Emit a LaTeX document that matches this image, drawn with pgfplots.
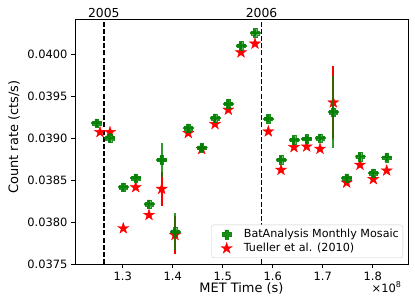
\documentclass[border=0pt]{standalone}
\usepackage{fontspec}
\setmainfont{DejaVu Sans}
\usepackage{pgfplots}
\pgfplotsset{compat=1.18}
\usepackage{pgfplotstable}

\definecolor{mgreen}{RGB}{0,128,0}

\pgfdeclareplotmark{Pfill}{%
  \pgfpathmoveto{\pgfpoint{-0.4\pgfplotmarksize}{-\pgfplotmarksize}}%
  \pgfpathlineto{\pgfpoint{0.4\pgfplotmarksize}{-\pgfplotmarksize}}%
  \pgfpathlineto{\pgfpoint{0.4\pgfplotmarksize}{-0.4\pgfplotmarksize}}%
  \pgfpathlineto{\pgfpoint{\pgfplotmarksize}{-0.4\pgfplotmarksize}}%
  \pgfpathlineto{\pgfpoint{\pgfplotmarksize}{0.4\pgfplotmarksize}}%
  \pgfpathlineto{\pgfpoint{0.4\pgfplotmarksize}{0.4\pgfplotmarksize}}%
  \pgfpathlineto{\pgfpoint{0.4\pgfplotmarksize}{\pgfplotmarksize}}%
  \pgfpathlineto{\pgfpoint{-0.4\pgfplotmarksize}{\pgfplotmarksize}}%
  \pgfpathlineto{\pgfpoint{-0.4\pgfplotmarksize}{0.4\pgfplotmarksize}}%
  \pgfpathlineto{\pgfpoint{-\pgfplotmarksize}{0.4\pgfplotmarksize}}%
  \pgfpathlineto{\pgfpoint{-\pgfplotmarksize}{-0.4\pgfplotmarksize}}%
  \pgfpathlineto{\pgfpoint{-0.4\pgfplotmarksize}{-0.4\pgfplotmarksize}}%
  \pgfpathclose
  \pgfusepathqfillstroke
}
\pgfdeclareplotmark{fstar}{%
  \pgfpathmoveto{\pgfpointpolar{90}{\pgfplotmarksize}}%
  \pgfpathlineto{\pgfpointpolar{126}{0.382\pgfplotmarksize}}%
  \pgfpathlineto{\pgfpointpolar{162}{\pgfplotmarksize}}%
  \pgfpathlineto{\pgfpointpolar{198}{0.382\pgfplotmarksize}}%
  \pgfpathlineto{\pgfpointpolar{234}{\pgfplotmarksize}}%
  \pgfpathlineto{\pgfpointpolar{270}{0.382\pgfplotmarksize}}%
  \pgfpathlineto{\pgfpointpolar{306}{\pgfplotmarksize}}%
  \pgfpathlineto{\pgfpointpolar{342}{0.382\pgfplotmarksize}}%
  \pgfpathlineto{\pgfpointpolar{18}{\pgfplotmarksize}}%
  \pgfpathlineto{\pgfpointpolar{54}{0.382\pgfplotmarksize}}%
  \pgfpathclose
  \pgfusepathqfillstroke
}

\pgfplotstableread{
x      y        ex    ey
1.2480 0.039184 0.011 0.00005
1.2746 0.039005 0.011 0.00006
1.3012 0.038419 0.011 0.00004
1.3260 0.038527 0.011 0.00004
1.3526 0.038216 0.011 0.00004
1.3780 0.038746 0.011 0.00020
1.4046 0.037889 0.011 0.00022
1.4312 0.039124 0.011 0.00004
1.4580 0.038892 0.011 0.00004
1.4846 0.039244 0.011 0.00004
1.5112 0.039415 0.011 0.00004
1.5366 0.040108 0.011 0.00004
1.5646 0.040259 0.011 0.00004
1.5912 0.039235 0.011 0.00004
1.6166 0.038746 0.011 0.00004
1.6426 0.038984 0.011 0.00004
1.6680 0.038996 0.011 0.00004
1.6946 0.039005 0.011 0.00004
1.7212 0.039315 0.011 0.00043
1.7480 0.038527 0.011 0.00004
1.7746 0.038785 0.011 0.00004
1.8012 0.038587 0.011 0.00004
1.8280 0.038773 0.011 0.00004
}\bat

\pgfplotstableread{
x      y        ey
1.2546 0.039076 0.00003
1.2746 0.039076 0.00003
1.3012 0.037929 0.00003
1.3260 0.038419 0.00003
1.3526 0.038088 0.00003
1.3780 0.038399 0.00020
1.4046 0.037849 0.00023
1.4312 0.039065 0.00003
1.4580 0.038873 0.00003
1.4846 0.039172 0.00003
1.5112 0.039343 0.00003
1.5366 0.040027 0.00003
1.5646 0.040131 0.00003
1.5912 0.039084 0.00003
1.6166 0.038626 0.00003
1.6426 0.038897 0.00003
1.6680 0.038904 0.00003
1.6946 0.038877 0.00003
1.7212 0.039430 0.00043
1.7480 0.038474 0.00003
1.7746 0.038686 0.00003
1.8012 0.038515 0.00003
1.8280 0.038618 0.00003
}\tueller

\begin{document}
\begin{tikzpicture}
\path[use as bounding box] (-75bp,-42.7bp) rectangle (340bp,264.3bp);
\begin{axis}[
  at={(0,0)}, anchor=south west,
  scale only axis, width=333bp, height=244.8bp,
  xmin=1.2046, xmax=1.8706, ymin=0.0375, ymax=0.04042,
  xtick={1.3,1.4,1.5,1.6,1.7,1.8},
  ytick={0.0375,0.038,0.0385,0.039,0.0395,0.04},
  scaled ticks=false,
  xticklabel style={/pgf/number format/.cd, fixed, fixed zerofill, precision=1},
  yticklabel style={/pgf/number format/.cd, fixed, fixed zerofill, precision=4},
  /pgf/number format/assume math mode=true,
  tick align=outside, xtick pos=bottom, ytick pos=left,
  major tick length=4bp,
  tick style={black, line width=0.8bp},
  axis line style={line width=0.8bp},
  tick label style={font=\fontsize{11.5}{13}\selectfont},
  label style={font=\fontsize{13}{15}\selectfont},
  xlabel={MET Time (s)},
  ylabel={Count rate (cts/s)},
  xlabel style={at={(axis description cs:0.5,0)}, anchor=base, yshift=-28bp},
  ylabel style={at={(axis description cs:-0.1832,0.52)}, anchor=center},
  clip mode=individual,
  legend style={at={(1,0)}, anchor=south east, xshift=-5bp, yshift=6.3bp,
    font=\fontsize{11.2}{14}\selectfont, draw=black!20, rounded corners=2.5bp,
    inner xsep=2bp, inner ysep=2.5bp},
  legend cell align=left,
  legend image code/.code={\path (0bp,0bp) (28bp,0bp); \path[#1] plot coordinates {(13bp,0bp)};},
]
\addlegendimage{only marks, mark=Pfill, mark size=4.4bp, draw=mgreen, fill=mgreen, mark options={line width=0.4bp, draw=mgreen, fill=mgreen, opacity=0.9}}
\addlegendentry{BatAnalysis Monthly Mosaic}
\addlegendimage{only marks, mark=fstar, mark size=5.8bp, draw=red, fill=red, mark options={line width=0.4bp, draw=red, fill=red}}
\addlegendentry{Tueller et al. (2010)}

\addplot[forget plot, black, line width=1.4bp, dash pattern=on 5bp off 2.2bp]
  coordinates {(1.2623,0.0375) (1.2623,0.04042)};
\addplot[forget plot, black, line width=1.4bp, dash pattern=on 5bp off 2.2bp]
  coordinates {(1.5777,0.0375) (1.5777,0.04042)};

\addplot[forget plot, only marks, mark=fstar, mark size=5.8bp, draw=red, fill=red,
  mark options={line width=0.4bp},
  error bars/.cd, y dir=both, y explicit, error mark=none,
  error bar style={draw=red, line width=1.8bp}]
  table[x=x, y=y, y error=ey] {\tueller};

\addplot[forget plot, only marks, mark=Pfill, mark size=4.3bp, draw=mgreen, fill=mgreen,
  mark options={line width=0.4bp, opacity=0.85},
  error bars/.cd, x dir=both, x explicit, y dir=both, y explicit, error mark=none,
  error bar style={draw=mgreen, line width=1.8bp, opacity=0.8}]
  table[x=x, y=y, x error=ex, y error=ey] {\bat};

\node[anchor=base, yshift=2.4bp, font=\fontsize{12.4}{14}\selectfont] at (axis cs:1.2623,0.04042) {2005};
\node[anchor=base, yshift=2.4bp, font=\fontsize{12.4}{14}\selectfont] at (axis cs:1.5777,0.04042) {2006};
\node[anchor=base east, xshift=-3bp, yshift=-27.7bp, font=\fontsize{11.5}{13}\selectfont] at (rel axis cs:1,0) {×10\textsuperscript{8}};
\end{axis}
\end{tikzpicture}
\end{document}
